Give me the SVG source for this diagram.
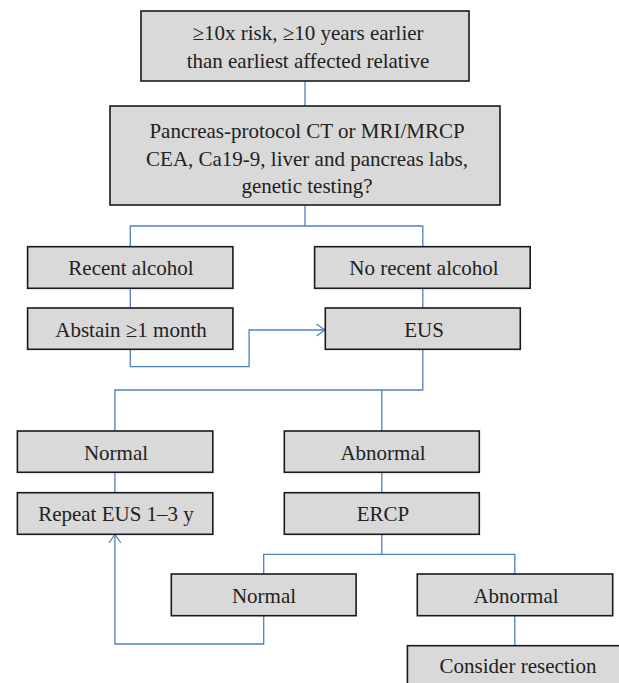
<svg xmlns="http://www.w3.org/2000/svg" width="619" height="683" viewBox="0 0 619 683">
<defs>
<marker id="arr" viewBox="0 0 10 14" refX="9.5" refY="7" markerWidth="10" markerHeight="14" markerUnits="userSpaceOnUse" orient="auto">
<path d="M1,1 L9.5,7 L1,13" fill="none" stroke="#4f81bd" stroke-width="1.3"/>
</marker>
<style>
.box{fill:#d9d9d9;stroke:#1a1a1a;stroke-width:1.6}
.t{font-family:"Liberation Serif","Times New Roman",serif;font-size:21px;fill:#222;text-anchor:middle}
.c{fill:none;stroke:#4f81bd;stroke-width:1.3}
</style>
</defs>
<rect width="619" height="683" fill="#fff"/>
<g id="connectors">
<path class="c" d="M305,81 V106"/>
<path class="c" d="M305,205 V226 M130.3,246.7 V226 H422.8 V246.7"/>
<path class="c" d="M130.3,288.3 V308"/>
<path class="c" d="M422.8,288.3 V308"/>
<path class="c" d="M130.3,349.3 V366.7 H249.1 V330 H325" marker-end="url(#arr)"/>
<path class="c" d="M422.8,349.3 V390 H114.9 V431 M381.8,390 V431"/>
<path class="c" d="M114.9,472.3 V492.7"/>
<path class="c" d="M381.8,472.3 V492.7"/>
<path class="c" d="M381.8,534.3 V554.3 M263.7,574 V554.3 H514.8 V574"/>
<path class="c" d="M514.8,615.7 V645.7"/>
<path class="c" d="M263.7,615.7 V644 H114.9 V534.5" marker-end="url(#arr)"/>
</g>
<g id="n1">
<rect class="box" x="141" y="11" width="328" height="70"/>
<text class="t" x="308" y="40">≥10x risk, ≥10 years earlier</text>
<text class="t" x="308" y="67.5">than earliest affected relative</text>
</g>
<g id="n2">
<rect class="box" x="110" y="106" width="390" height="99"/>
<text class="t" x="307" y="138.3">Pancreas-protocol CT or MRI/MRCP</text>
<text class="t" x="307" y="165.7">CEA, Ca19-9, liver and pancreas labs,</text>
<text class="t" x="307" y="193">genetic testing?</text>
</g>
<g id="n3">
<rect class="box" x="27.6" y="246.7" width="205.3" height="41.6"/>
<text class="t" x="131" y="275">Recent alcohol</text>
</g>
<g id="n4">
<rect class="box" x="314.6" y="246.7" width="215.6" height="41.6"/>
<text class="t" x="424" y="275">No recent alcohol</text>
</g>
<g id="n5">
<rect class="box" x="27.6" y="308" width="205.3" height="41.3"/>
<text class="t" x="131" y="336.5">Abstain ≥1 month</text>
</g>
<g id="n6">
<rect class="box" x="325.3" y="308" width="195" height="41.3"/>
<text class="t" x="424" y="336.5">EUS</text>
</g>
<g id="n7">
<rect class="box" x="17.4" y="431" width="195.4" height="41.3"/>
<text class="t" x="116" y="459.5">Normal</text>
</g>
<g id="n8">
<rect class="box" x="284.3" y="431" width="195" height="41.3"/>
<text class="t" x="383" y="459.5">Abnormal</text>
</g>
<g id="n9">
<rect class="box" x="17.4" y="492.7" width="195.4" height="41.6"/>
<text class="t" x="116" y="521">Repeat EUS 1–3 y</text>
</g>
<g id="n10">
<rect class="box" x="284.3" y="492.7" width="195" height="41.6"/>
<text class="t" x="383" y="521">ERCP</text>
</g>
<g id="n11">
<rect class="box" x="171.3" y="574" width="184.8" height="41.7"/>
<text class="t" x="264" y="602.5">Normal</text>
</g>
<g id="n12">
<rect class="box" x="417.3" y="574" width="195.4" height="41.7"/>
<text class="t" x="516" y="602.5">Abnormal</text>
</g>
<g id="n13">
<rect class="box" x="407.4" y="645.7" width="222" height="50"/>
<text class="t" x="518" y="673">Consider resection</text>
</g>
</svg>
